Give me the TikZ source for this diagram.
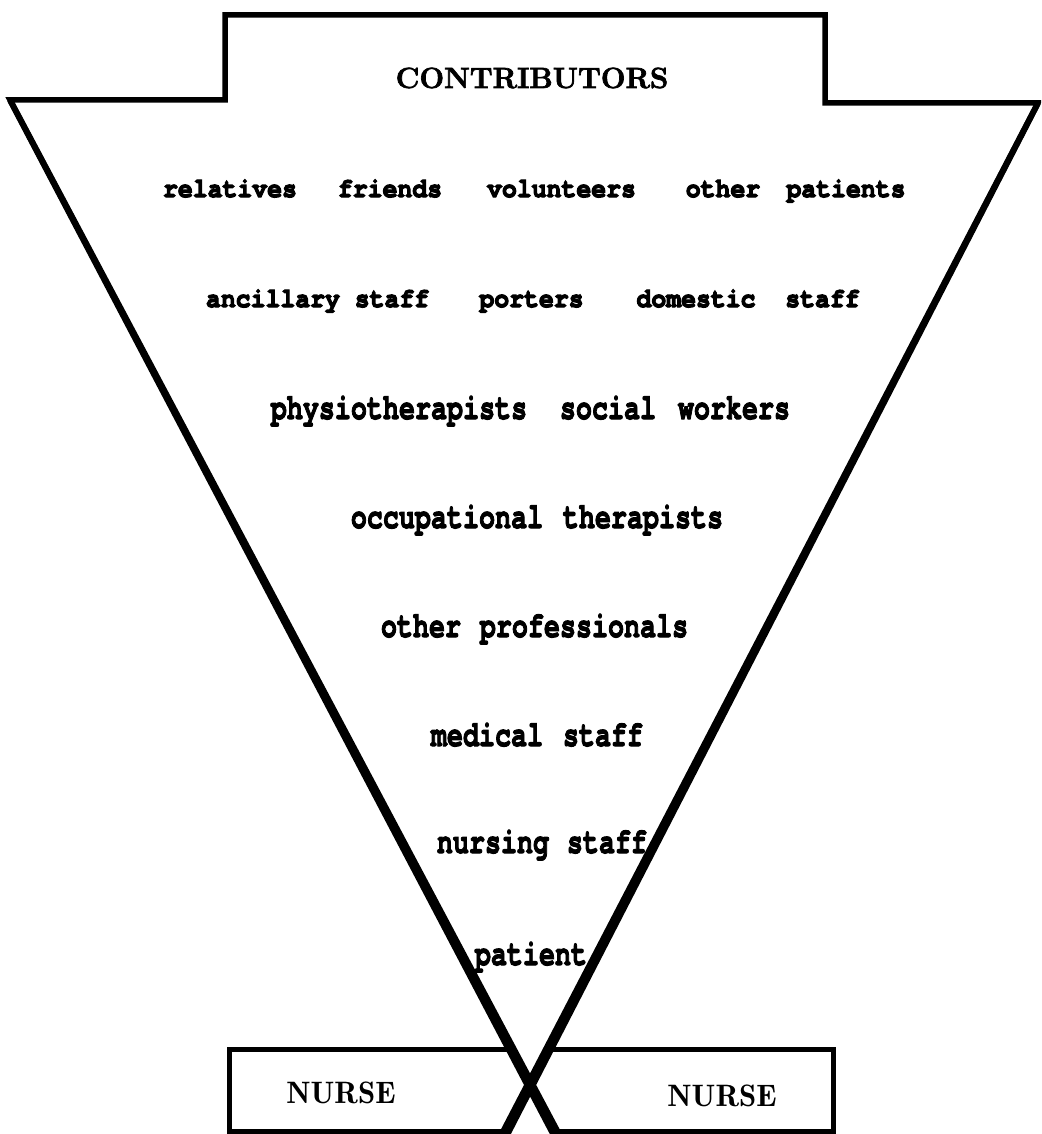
\documentclass[tikz,border=0pt]{standalone}
\usepackage{fontspec}
\usepackage{graphicx}
\setmainfont{Latin Modern Roman}
% heavy typewriter face and a demibold roman for the labels
\newfontfamily\typefont{texgyrecursor-bold}[Extension=.otf, Ligatures=NoCommon]
\newfontfamily\demifont{lmromandemi10-regular}[Extension=.otf]
% fill-and-stroke rendering thickens the glyph strokes
\newcommand\inkstroke[2]{\special{pdf:literal direct 2 Tr #1 w}#2\special{pdf:literal direct 0 Tr}}
\newcommand\upword[1]{\scalebox{1}[1.1]{\inkstroke{1.1}{#1}}}
\newcommand\stretchup[1]{\scalebox{1}[1.36]{\inkstroke{0.8}{#1}}}

\tikzset{
  frame/.style={line width=5.5pt, line join=miter, miter limit=10},
  funnel/.style={fill=black, draw=none},
  boxline/.style={line width=5pt, line join=miter},
  upperword/.style={anchor=base, inner sep=0pt, font=\typefont\fontsize{24.8}{27}\selectfont},
  lowerword/.style={anchor=base, inner sep=0pt, font=\typefont\fontsize{26.7}{29}\selectfont},
  heading/.style={anchor=base, inner sep=0pt, font=\bfseries\fontsize{29.2}{31}\selectfont},
  nurse/.style={anchor=base, inner sep=0pt, font=\demifont\fontsize{31}{34}\selectfont},
}

\begin{document}
\begin{tikzpicture}[x=1pt,y=-1pt]
  \useasboundingbox (0,0) rectangle (1041,1134);
  \fill[white] (0,0) rectangle (1041,1134);

  % corner points of the outline
  \coordinate (tipL) at (10,100);
  \coordinate (shL)  at (225,100);
  \coordinate (topL) at (225,15);
  \coordinate (topR) at (825,15);
  \coordinate (shR)  at (825,103);
  \coordinate (tipR) at (1038,103);
  \coordinate (endL) at (556,1134);
  \coordinate (endR) at (504.7,1134);

  \begin{scope}
    \clip (0,0) rectangle (1041,1134);
    % head box, shoulders and the two crossing sides
    \draw[frame] (endL) -- (tipL) -- (shL) -- (topL) -- (topR)
                 -- (shR) -- (tipR) -- (endR);
    % the sides grow heavier towards the crossing
    \fill[funnel] (12.65,98.6) -- (560.86,1131.43) -- (551.14,1136.57)
                  -- (7.35,101.4) -- cycle;
    \fill[funnel] (1040.66,104.38) -- (509.59,1136.53) -- (499.81,1131.47)
                  -- (1035.34,101.62) -- cycle;
  \end{scope}

  % the two nurse boxes
  \draw[boxline] (511,1049) -- (229.5,1049) -- (229.5,1131) -- (506,1131);
  \draw[boxline] (548.6,1049) -- (833,1049) -- (833,1131) -- (554.3,1131);

  % heading
  \node[heading] (head) at (532,88) {\inkstroke{0.7}{CONTRIBUTORS}};

  % first row
  \node[upperword] (w11) at (230,197) {\upword{relatives}};
  \node[upperword] (w12) at (390,197) {\upword{friends}};
  \node[upperword] (w13) at (561.5,197) {\upword{volunteers}};
  \node[upperword] (w14) at (723,197) {\upword{other}};
  \node[upperword] (w15) at (846,197) {\upword{patients}};

  % second row
  \node[upperword] (w21) at (273,307) {\upword{ancillary}};
  \node[upperword] (w22) at (392,307) {\upword{staff}};
  \node[upperword] (w23) at (531.5,307) {\upword{porters}};
  \node[upperword] (w24) at (696,307) {\upword{domestic}};
  \node[upperword] (w25) at (822.5,307) {\upword{staff}};

  % narrowing rows
  \node[lowerword] (w31) at (399,419) {\stretchup{physiotherapists}};
  \node[lowerword] (w32) at (608,419) {\stretchup{social}};
  \node[lowerword] (w33) at (734,419) {\stretchup{workers}};

  \node[lowerword] (w41) at (447,528) {\stretchup{occupational}};
  \node[lowerword] (w42) at (643,528) {\stretchup{therapists}};

  \node[lowerword] (w51) at (421,637) {\stretchup{other}};
  \node[lowerword] (w52) at (584,637) {\stretchup{professionals}};

  \node[lowerword] (w61) at (487,746) {\stretchup{medical}};
  \node[lowerword] (w62) at (603,746) {\stretchup{staff}};

  \node[lowerword] (w71) at (493,853) {\stretchup{nursing}};
  \node[lowerword] (w72) at (607,853) {\stretchup{staff}};

  \node[lowerword] (w81) at (531,965) {\stretchup{patient}};

  % nurse labels
  \node[nurse] (nurseL) at (341,1103) {NURSE};
  \node[nurse] (nurseR) at (722,1106) {NURSE};
\end{tikzpicture}
\end{document}
